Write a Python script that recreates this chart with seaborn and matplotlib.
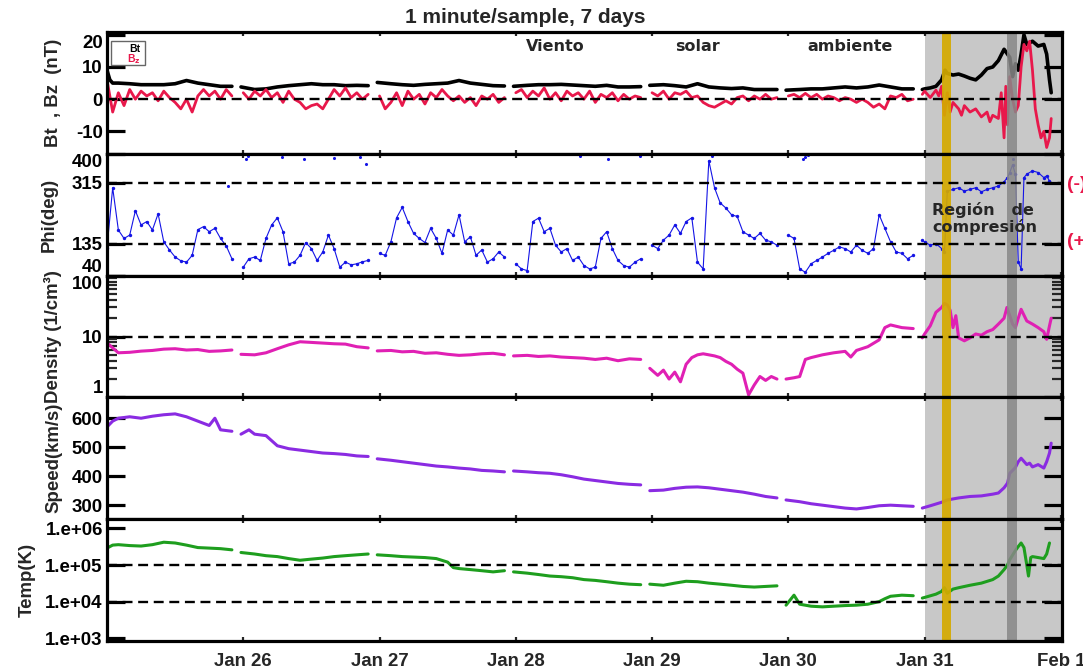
import numpy as np
import pandas as pd
import matplotlib
matplotlib.use("Agg")
import matplotlib.pyplot as plt
import seaborn as sns
from matplotlib.ticker import FixedLocator, FixedFormatter, NullFormatter, LogLocator
from matplotlib.patches import Rectangle

NAN = np.nan

# ---------------- data (hours from Jan 25 00:00 UT) ----------------
day_ticks = [24, 48, 72, 96, 120, 144, 168]
day_labels = ["Jan 26", "Jan 27", "Jan 28", "Jan 29", "Jan 30", "Jan 31", "Feb 1"]

# Bt (nT)
bt_h = [0, 0.5, 1, 2, 4, 6, 8, 10, 12, 14, 16, 18, 20, 22, 22.8,
        23.6, 26, 28, 30, 32, 34, 36, 38, 40, 42, 44, 46, 46.8,
        47.6, 50, 52, 54, 56, 58, 60, 62, 64, 66, 68, 70, 70.8,
        71.6, 74, 76, 78, 80, 82, 84, 86, 88, 90, 92, 94, 94.8,
        95.6, 98, 100, 102, 104, 106, 108, 110, 112, 114, 116, 118, 118.8,
        119.6, 122, 124, 126, 128, 130, 132, 134, 136, 138, 140, 142, 142.8,
        143.6, 144, 145, 146, 147, 147.6, 148, 149, 150, 151, 152, 153, 154, 155, 156,
        157, 158, 158.6, 159, 159.5, 160, 160.5, 161, 161.5, 162, 163, 164, 165, 165.5, 166, 166.3]
bt_v = [9, 6, 5, 5, 4.8, 4.5, 4.5, 4.5, 4.8, 5.8, 5, 4.5, 4.0, 4.0, NAN,
        3.8, 3.0, 3.2, 3.8, 4.2, 4.5, 4.8, 4.5, 4.5, 4.2, 4.3, 4.2, NAN,
        5.2, 4.8, 4.5, 4.3, 4.6, 4.8, 5.0, 5.8, 5.0, 4.6, 4.2, 4.1, NAN,
        4.0, 4.3, 4.5, 4.5, 4.6, 4.4, 4.2, 4.0, 4.3, 3.8, 3.8, 3.9, NAN,
        4.3, 4.5, 4.2, 3.8, 4.8, 3.8, 3.5, 3.3, 3.5, 3.0, 3.0, 3.0, NAN,
        2.8, 3.0, 3.2, 3.2, 3.5, 3.8, 3.5, 3.8, 4.4, 3.8, 3.2, 3.2, NAN,
        3.0, 3.2, 3.5, 4.0, 6.0, 9.0, 8.0, 7.5, 7.8, 7.2, 6.5, 6.0, 7.5, 9.5, 10,
        12, 15.5, 14, 13, 7, 11, 9, 14, 20, 17, 18, 16.5, 17, 14, 6, 2]

# Bz (nT), hourly 0..143
bz_hourly = [6, -4, 2, -2, 3, 0, 2.5, 1, 2, -0.5, 2.5, 0.5,
             -1, -3, 0, -4, 1, 3, 1, 2.5, 0, 3, 1, NAN,
             2, 0, 2.5, 1, 3, 0.5, 2, -1, 2.5, 0, -1, -3,
             -2, -1.5, -3, 0, 3, 1, 3.5, 0.5, 2, 0, 1.5, NAN,
             1, -3, -1, 2, -2, 2.5, 0, 1.5, -1.5, 2, 0.5, 3,
             1, -0.5, 1, -1, 0.5, -2, 1, 0, 1.5, -1, 0.5, NAN,
             2, 3, 0.5, 2.5, 1, 3.5, 0, 2, -0.5, 2.5, 1, 2,
             0, 2.5, -1, 1.5, 0.5, 2, -0.5, 1.5, 0, 1, 0.5, NAN,
             2, 1, 2.5, 0, 2, 1.5, 2.5, 0.5, 1, -1, -2, -2.5,
             -1.5, -0.5, -1.5, 0.5, 1, -0.5, 1, 0, 1.5, 0, 0.5, NAN,
             1, 1.5, 0.5, 1.8, 0.5, 1.5, 0, 1, 0.5, -0.5, 0.5, 0,
             -1, 0, -1, -2.5, -1.5, -3, 1, 0.5, 1.5, -0.5, 0, NAN]
bz_cmp_h = [143.6, 144, 145, 146, 146.5, 147, 147.5, 148, 148.5, 149, 150, 150.5, 151, 152,
            153, 154, 155, 155.5, 156, 157, 157.5, 158, 158.3, 158.6, 159, 159.5, 160, 160.5,
            161, 161.5, 162, 162.5, 163, 163.5, 164, 164.5, 165, 165.5, 166, 166.3]
bz_cmp_v = [1.5, 2.5, 0.5, 2.8, 1, 4, -5, 2, -4, -1, -3, -5, -2, -4,
            -3, -5.5, -4, -7, -5, -6, 2, -12, 4, -8, 7, 0, -4, -2,
            10, 17, 15, 18, 9, -3, -8, -12, -10, -15, -12, -6]

# Phi (deg), hourly 0..143
phi_hourly = [122, 300, 175, 150, 160, 232, 190, 200, 175, 223, 140, 116,
              95, 84, 80, 100, 176, 185, 170, 180, 150, 128, 90, NAN,
              65, 90, 95, 85, 150, 190, 211, 170, 75, 80, 100, 138,
              120, 85, 110, 160, 120, 65, 80, 72, 75, 81, 85, NAN,
              106, 100, 140, 211, 242, 200, 165, 150, 138, 180, 150, 106,
              175, 160, 220, 140, 155, 100, 116, 80, 90, 110, 95, NAN,
              75, 60, 55, 200, 210, 170, 180, 130, 110, 120, 85, 95,
              70, 60, 65, 150, 170, 120, 85, 70, 65, 80, 90, NAN,
              130, 120, 145, 160, 190, 165, 200, 211, 80, 60, 380, 300,
              255, 240, 220, 215, 170, 160, 150, 165, 145, 140, 130, NAN,
              160, 150, 60, 50, 75, 85, 95, 106, 115, 125, 120, 110,
              130, 115, 106, 120, 220, 180, 140, 110, 106, 90, 100, NAN]
phi_cmp_h = [143.6, 144, 145, 146, 147, 147.5, 148, 149, 150, 151, 152, 153, 154, 155, 156,
             157, 158, 158.6, 159, 159.5, 160, 160.5, 161, 161.5, 162, 163, 164, 165, 165.5, 166]
phi_cmp_v = [145, 140, 130, 135, 120, 110, 290, 295, 300, 290, 295, 300, 288, 295, 300,
             305, 318, 330, 345, 368, 340, 80, 60, 330, 340, 350, 345, 330, 335, 320]
phi_out_h = [21.3, 24.5, 24.8, 30.8, 34.7, 40.0, 44.6, 45.6, 83.3, 88.3, 93.9, 106.5,
             122.5, 123.0, 123.5, 159.6]
phi_out_v = [305, 385, 395, 390, 385, 388, 390, 370, 395, 385, 395, 395,
             385, 392, 398, 385]

# Density (1/cm^3)
den_h = [0, 1, 2, 4, 6, 8, 10, 12, 14, 16, 18, 20, 22, 22.8,
         23.6, 26, 28, 30, 32, 34, 36, 38, 40, 42, 44, 46, 46.8,
         47.6, 50, 52, 54, 56, 58, 60, 62, 64, 66, 68, 70, 70.8,
         71.6, 74, 76, 78, 80, 82, 84, 86, 88, 90, 92, 94, 94.8,
         95.6, 97, 98, 99, 100, 101, 102, 103, 104, 105, 106, 107, 108, 109, 110, 111,
         112, 113, 114, 115, 116, 117, 118, 118.8,
         119.6, 121, 122, 123, 124, 126, 128, 130, 131, 132, 134, 136, 137, 138, 140, 142, 142.8,
         143.6, 144, 145, 146, 147, 147.5, 148, 148.5, 149, 149.5, 150, 151, 152, 153, 154,
         155, 156, 157, 158, 158.5, 159, 159.5, 160, 160.5, 161, 162, 163, 164, 165, 165.5, 166, 166.3]
den_v = [7.9, 6.5, 5.4, 5.5, 5.75, 5.9, 6.2, 6.3, 6.0, 6.1, 5.7, 5.8, 6.0, NAN,
         5.1, 5.0, 5.4, 6.3, 7.3, 8.2, 8.0, 7.8, 7.6, 7.5, 6.8, 6.5, NAN,
         5.8, 5.9, 5.6, 5.7, 5.3, 5.4, 5.1, 4.9, 5.0, 5.2, 5.3, 5.0, NAN,
         4.8, 4.9, 4.7, 4.8, 4.6, 4.5, 4.4, 4.2, 4.4, 4.0, 4.3, 4.2, NAN,
         3.0, 2.3, 2.8, 2.0, 2.6, 1.8, 3.5, 4.5, 5.0, 5.2, 5.0, 4.8, 4.5, 3.9, 3.5, 2.9,
         2.5, 1.1, 1.6, 2.2, 1.9, 2.2, 2.0, NAN,
         2.0, 2.1, 2.2, 4.2, 4.5, 5.0, 5.4, 5.7, 4.6, 5.9, 6.8, 8.8, 14, 15.5, 14, 13.5, NAN,
         9.5, 11, 15, 25, 30, 35, 33, 27, 14, 22, 9.5, 8.5, 9.5, 11, 10.5,
         12, 13, 16, 20, 30, 22, 16, 14, 20, 28, 18, 16, 14, 12, 9, 15, 20]

# Speed (km/s)
spd_h = [0, 1, 2, 4, 6, 8, 10, 12, 14, 16, 18, 19, 20, 22, 22.8,
         23.6, 25, 26, 28, 30, 32, 34, 36, 38, 40, 42, 44, 46, 46.8,
         47.6, 50, 52, 54, 56, 58, 60, 62, 64, 66, 68, 70, 70.8,
         71.6, 74, 76, 78, 80, 82, 84, 86, 88, 90, 92, 94, 94.8,
         95.6, 98, 100, 102, 104, 106, 108, 110, 112, 114, 116, 118, 118.8,
         119.6, 122, 124, 126, 128, 130, 132, 134, 136, 138, 140, 142, 142.8,
         143.6, 145, 147, 148, 150, 152, 154, 156, 157, 158, 158.6, 159, 160, 160.5,
         161, 162, 162.5, 163, 164, 165, 165.5, 166, 166.3]
spd_v = [570, 590, 600, 605, 600, 607, 612, 615, 605, 590, 575, 600, 560, 555, NAN,
         545, 560, 545, 540, 505, 495, 490, 485, 480, 478, 475, 470, 468, NAN,
         460, 455, 450, 445, 440, 435, 432, 428, 425, 420, 418, 415, NAN,
         418, 415, 412, 410, 405, 398, 390, 385, 380, 375, 372, 370, NAN,
         350, 352, 358, 362, 363, 360, 355, 350, 345, 338, 330, 325, NAN,
         318, 312, 305, 300, 295, 290, 287, 292, 298, 300, 298, 296, NAN,
         290, 298, 310, 318, 325, 330, 332, 338, 342, 360, 376, 410, 430, 450,
         462, 440, 445, 432, 440, 428, 450, 480, 514]

# Temperature (K)
tmp_h = [0, 1, 2, 4, 6, 8, 10, 12, 14, 16, 18, 20, 22, 22.8,
         23.6, 26, 28, 30, 32, 34, 36, 38, 40, 42, 44, 46, 46.8,
         47.6, 50, 52, 54, 56, 58, 60, 61, 62, 64, 66, 68, 70, 70.8,
         71.6, 74, 76, 78, 80, 82, 84, 86, 88, 90, 92, 94, 94.8,
         95.6, 98, 100, 102, 104, 106, 108, 110, 112, 114, 116, 118, 118.8,
         119.6, 121, 122, 124, 126, 128, 130, 132, 134, 136, 137, 138, 140, 142, 142.8,
         143.6, 144, 146, 147, 147.5, 148, 149, 150, 152, 154, 156, 157, 158, 158.6, 159,
         160, 160.5, 161, 161.5, 162, 162.3, 162.7, 163, 164, 165, 165.5, 166]
tmp_v = [2.9e5, 3.5e5, 3.6e5, 3.4e5, 3.3e5, 3.6e5, 4.2e5, 4.0e5, 3.5e5, 3.0e5, 2.9e5, 2.8e5, 2.6e5, NAN,
         2.2e5, 2.0e5, 1.8e5, 1.7e5, 1.5e5, 1.35e5, 1.45e5, 1.55e5, 1.7e5, 1.8e5, 1.9e5, 2.0e5, NAN,
         1.9e5, 1.8e5, 1.7e5, 1.65e5, 1.6e5, 1.5e5, 1.2e5, 8.5e4, 8e4, 7.5e4, 7e4, 6.5e4, 7e4, NAN,
         6.5e4, 6.0e4, 5.5e4, 5.0e4, 4.8e4, 4.5e4, 4.0e4, 3.8e4, 3.5e4, 3.2e4, 3.0e4, 2.9e4, NAN,
         3.0e4, 2.8e4, 3.2e4, 3.6e4, 3.5e4, 3.2e4, 3.0e4, 2.8e4, 2.6e4, 2.5e4, 2.6e4, 2.7e4, NAN,
         8e3, 1.5e4, 8.5e3, 7.5e3, 7.2e3, 7.5e3, 7.8e3, 8.0e3, 8.5e3, 1.0e4, 1.2e4, 1.4e4, 1.5e4, 1.45e4, NAN,
         1.25e4, 1.3e4, 1.6e4, 1.9e4, 2.4e4, 1.7e4, 2.2e4, 2.4e4, 2.8e4, 3.2e4, 4.0e4, 5.0e4, 7.5e4, 1.0e5, 1.4e5,
         2.5e5, 3.2e5, 4.0e5, 3.0e5, 1.0e5, 5e4, 1.6e5, 1.7e5, 1.6e5, 1.5e5, 2e5, 4.0e5]

# ---------------- styling ----------------
sns.set_style("white")
plt.rcParams["font.family"] = ["Liberation Sans", "DejaVu Sans"]
plt.rcParams["font.weight"] = "bold"
plt.rcParams["axes.labelweight"] = "bold"

C_BZ = "#e8184b"
C_PHI = "#1414e6"
C_DEN = "#e020b4"
C_SPD = "#8a2be2"
C_TMP = "#1e9e1e"
XMAX = 168.2


def frame(h, v):
    h = np.asarray(h, float)
    v = np.asarray(v, float)
    seg = np.cumsum(np.isnan(v))
    df = pd.DataFrame({"h": h, "v": v, "seg": seg}).dropna()
    return df


def draw(ax, h, v, color, lw):
    df = frame(h, v)
    sns.lineplot(data=df, x="h", y="v", units="seg", estimator=None, color=color,
                 lw=lw, ax=ax, legend=False, zorder=2)
    return df


fig = plt.figure(figsize=(10.83, 6.71), dpi=100)
gs = fig.add_gridspec(5, 1, left=0.0988, right=0.9806, top=0.952, bottom=0.045, hspace=0)
axes = [fig.add_subplot(gs[i]) for i in range(5)]

hourly = list(range(144))

# Panel 1: Bt, Bz
ax = axes[0]
draw(ax, bt_h, bt_v, "black", 2.6)
draw(ax, hourly + bz_cmp_h, bz_hourly + bz_cmp_v, C_BZ, 2.0)
ax.set_ylim(-17, 20.8)
ax.yaxis.set_major_locator(FixedLocator([20, 10, 0, -10]))
ax.yaxis.set_major_formatter(FixedFormatter(["20", "10", "0", "-10"]))
ax.set_ylabel("Bt  , Bz  (nT)")

# Panel 2: Phi
ax = axes[1]
dphi = draw(ax, hourly + phi_cmp_h, phi_hourly + phi_cmp_v, C_PHI, 0.8)
sns.scatterplot(data=dphi, x="h", y="v", color=C_PHI, s=6, linewidth=0, ax=ax, zorder=2, legend=False)
dout = pd.DataFrame({"h": phi_out_h, "v": phi_out_v})
sns.scatterplot(data=dout, x="h", y="v", color=C_PHI, s=5, linewidth=0, ax=ax, zorder=2, legend=False)
ax.set_ylim(40, 400)
ax.yaxis.set_major_locator(FixedLocator([400, 315, 135, 40]))
ax.yaxis.set_major_formatter(FixedFormatter(["400", "315", "135", "40"]))
ax.set_ylabel("Phi(deg)")

# Panel 3: Density
ax = axes[2]
draw(ax, den_h, den_v, C_DEN, 2.2)
ax.set_yscale("log")
ax.set_ylim(1, 100)
ax.yaxis.set_major_locator(FixedLocator([100, 10, 1]))
ax.yaxis.set_major_formatter(FixedFormatter(["100", "10", "1"]))
ax.yaxis.set_minor_locator(LogLocator(base=10, subs=range(2, 10)))
ax.yaxis.set_minor_formatter(NullFormatter())
ax.set_ylabel("Density (1/cm³)")

# Panel 4: Speed
ax = axes[3]
draw(ax, spd_h, spd_v, C_SPD, 2.2)
ax.set_ylim(252, 672)
ax.yaxis.set_major_locator(FixedLocator([600, 500, 400, 300]))
ax.yaxis.set_major_formatter(FixedFormatter(["600", "500", "400", "300"]))
ax.set_ylabel("Speed(km/s)")

# Panel 5: Temp
ax = axes[4]
draw(ax, tmp_h, tmp_v, C_TMP, 2.2)
ax.set_yscale("log")
ax.set_ylim(850, 1.8e6)
ax.yaxis.set_major_locator(FixedLocator([1e6, 1e5, 1e4, 1e3]))
ax.yaxis.set_major_formatter(FixedFormatter(["1.e+06", "1.e+05", "1.e+04", "1.e+03"]))
ax.yaxis.set_minor_locator(LogLocator(base=10, subs=range(2, 10)))
ax.yaxis.set_minor_formatter(NullFormatter())
ax.set_ylabel("Temp(K)")

dash_levels = [[0], [315, 135], [10], [], [1e5, 1e4]]
label_x = [-0.047, -0.052, -0.047, -0.047, -0.075]
# tick labels sitting on the panel edges: (first label va, last label va)
edge_va = [("top", None), ("top", "bottom"), ("top", "bottom"), (None, None), (None, None)]

for i, ax in enumerate(axes):
    ax.set_xlim(0, XMAX)
    ax.axvspan(144, XMAX, color="#c8c8c8", lw=0, zorder=0)
    ax.axvspan(147.0, 148.6, color="#d4aa00", lw=0, zorder=4, alpha=0.92)
    ax.axvspan(158.6, 160.3, color="#888888", lw=0, zorder=4, alpha=0.85)
    for lv in dash_levels[i]:
        ax.axhline(lv, color="black", lw=1.7, ls=(0, (4.2, 2.4)), zorder=5)
    for sp in ax.spines.values():
        sp.set_linewidth(2.3)
        sp.set_color("black")
        sp.set_zorder(6)
    ax.tick_params(axis="y", which="major", direction="in", length=13, width=2.3,
                   left=True, right=True, labelsize=13.4, pad=3, colors="black")
    ax.tick_params(axis="y", which="minor", direction="in", length=7, width=1.6,
                   left=True, right=True)
    ax.xaxis.set_major_locator(FixedLocator(day_ticks))
    ax.xaxis.set_major_formatter(FixedFormatter(day_labels))
    ax.tick_params(axis="x", which="major", direction="in", length=3, width=1.6,
                   top=True, bottom=True, labelbottom=(i == 4), labelsize=13.4, pad=9)
    ax.set_xlabel("")
    ax.yaxis.label.set_size(13.4)
    ax.yaxis.set_label_coords(label_x[i], 0.5)
    ax.set_facecolor("white")
    ticks = ax.yaxis.get_major_ticks()
    first_va, last_va = edge_va[i]
    if first_va:
        ticks[0].label1.set_verticalalignment(first_va)
    if last_va:
        ticks[-1].label1.set_verticalalignment(last_va)

# annotations panel 1
a0 = axes[0]
tr0 = a0.get_xaxis_transform()
for txt, xh in [("Viento", 79.0), ("solar", 104.0), ("ambiente", 130.8)]:
    a0.text(xh, 0.884, txt, transform=tr0, ha="center", va="center",
            fontsize=11.5, fontweight="bold", family="DejaVu Sans", zorder=7)
a0.add_patch(Rectangle((0.0042, 0.727), 0.0356, 0.199, transform=a0.transAxes,
                       fill=True, fc="white", ec="#666666", lw=1.0, zorder=7))
a0.text(0.035, 0.865, "Bt", transform=a0.transAxes, ha="right", va="center",
        fontsize=7.5, color="black", zorder=8)
a0.text(0.035, 0.78, r"B$_\mathbf{z}$", transform=a0.transAxes, ha="right", va="center",
        fontsize=7.5, color=C_BZ, zorder=8)

# annotations panel 2
a1 = axes[1]
tr1 = a1.get_xaxis_transform()
a1.text(145.3, 0.54, "Región   de", transform=tr1, ha="left", va="center",
        fontsize=11.5, fontweight="bold", family="DejaVu Sans", zorder=7)
a1.text(145.3, 0.40, "compresión", transform=tr1, ha="left", va="center",
        fontsize=11.5, fontweight="bold", family="DejaVu Sans", zorder=7)

fig.text(1067 / 1083, 1 - 184 / 671, "(-)", color=C_BZ, ha="left", va="center",
         fontsize=14, fontweight="bold")
fig.text(1067 / 1083, 1 - 242 / 671, "(+)", color=C_BZ, ha="left", va="center",
         fontsize=14, fontweight="bold")

fig.text(0.485, 0.974, "1 minute/sample, 7 days", ha="center", va="center",
         fontsize=15, fontweight="bold")

fig.savefig("out.png", dpi=100, facecolor="white")
